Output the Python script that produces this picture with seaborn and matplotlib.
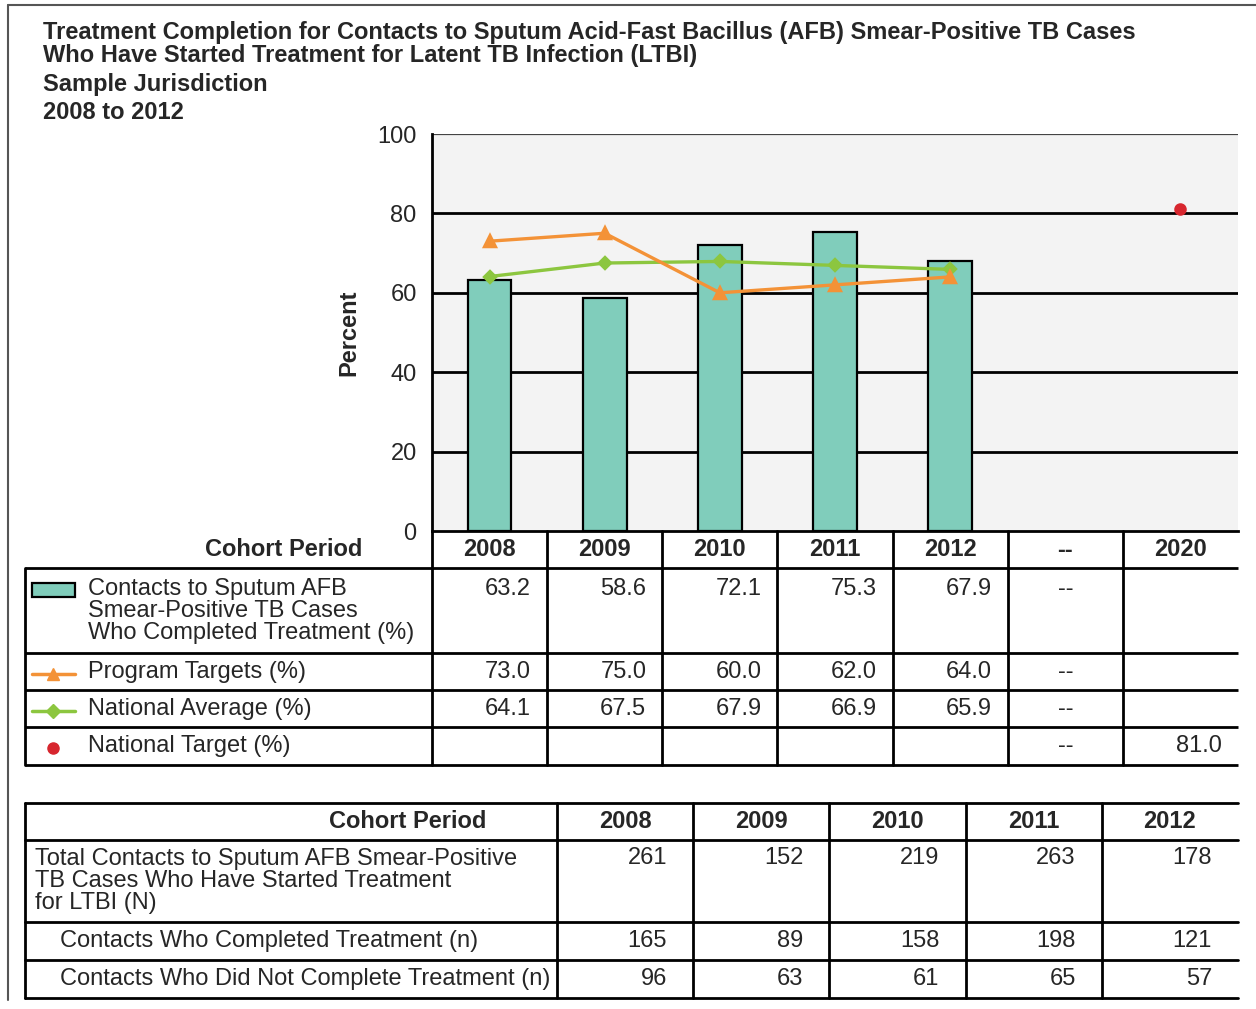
import matplotlib
matplotlib.use("Agg")
import matplotlib.pyplot as plt
from matplotlib.lines import Line2D
from matplotlib.patches import Rectangle
import numpy as np
import pandas as pd
import seaborn as sns

# ---- data -------------------------------------------------------------
years = ["2008", "2009", "2010", "2011", "2012"]
columns = years + ["--", "2020"]
completed_pct = [63.2, 58.6, 72.1, 75.3, 67.9]
program_targets = [73.0, 75.0, 60.0, 62.0, 64.0]
national_avg = [64.1, 67.5, 67.9, 66.9, 65.9]
target_year = ["2020"]
national_target = [81.0]

total_started = [261, 152, 219, 263, 178]
completed_n = [165, 89, 158, 198, 121]
not_completed_n = [96, 63, 61, 65, 57]

TEAL = "#80cdbb"
ORANGE = "#f39237"
GREEN = "#8cc63f"
RED = "#d7262e"

sns.set_theme(style="white")
plt.rcParams["font.family"] = ["Liberation Sans", "DejaVu Sans"]

W, H = 1256, 1009
fig = plt.figure(figsize=(W / 100, H / 100), dpi=100)


def px_axes(x0, x1, y0, y1):
    # pixel box (top-left origin) -> figure axes
    return fig.add_axes([x0 / W, 1 - y1 / H, (x1 - x0) / W, (y1 - y0) / H])


FS = 17
AX_L, AX_R, AX_T, AX_B = 432, 1238, 134, 531
col_w = (AX_R - AX_L) / len(columns)

# ---- chart -------------------------------------------------------------
ax = px_axes(AX_L, AX_R, AX_T, AX_B)
ax.set_facecolor("#f3f3f3")
ax.set_axisbelow(True)

sns.barplot(x=years, y=completed_pct, order=columns, color=TEAL,
            width=0.38, edgecolor="black", linewidth=1.6,
            saturation=1, ax=ax, zorder=2)
sns.pointplot(x=years, y=program_targets, order=columns, color=ORANGE,
              markers="^", markersize=8, linewidth=2.4, errorbar=None,
              ax=ax, zorder=4)
sns.pointplot(x=years, y=national_avg, order=columns, color=GREEN,
              markers="D", markersize=6, linewidth=2.4, errorbar=None,
              ax=ax, zorder=3)
sns.pointplot(x=target_year, y=national_target, order=columns, color=RED,
              markers="o", markersize=7, linestyle="none", errorbar=None,
              ax=ax, zorder=4)

ax.set_xlim(-0.5, len(columns) - 0.5)
ax.set_ylim(0, 100)
ax.set_yticks([0, 20, 40, 60, 80, 100])
for v in [20, 40, 60, 80]:
    ax.axhline(v, color="black", lw=2, zorder=1)
ax.axhline(100, color="#444444", lw=1.6, zorder=1)
ax.set_xticks([])
ax.set_xlabel("")
for s in ["top", "right"]:
    ax.spines[s].set_visible(False)
ax.spines["left"].set_color("black")
ax.spines["left"].set_linewidth(2)
ax.spines["bottom"].set_color("black")
ax.spines["bottom"].set_linewidth(2)
ax.tick_params(axis="y", direction="out", length=8, width=1.6,
               color="black", labelsize=FS, pad=3)
ax.set_ylabel("Percent", fontsize=FS, fontweight="bold", labelpad=12)

# ---- upper table -------------------------------------------------------
T_L = 25
t1 = px_axes(T_L, AX_R, AX_B, 765)
lab_w = (AX_L - T_L) / col_w
x_left = -0.5 - lab_w
t1.set_xlim(x_left, len(columns) - 0.5)
t1.set_ylim(765, AX_B)
t1.axis("off")


def tx(px):
    return -0.5 - (AX_L - px) / col_w


rows1 = [568, 653, 690, 727, 765]
for y in rows1:
    t1.plot([x_left, len(columns) - 0.5], [y, y], color="black", lw=2,
            solid_capstyle="butt", clip_on=False)
t1.plot([x_left, x_left], [rows1[0], rows1[-1]], color="black", lw=2,
        clip_on=False)
for k in range(len(columns)):
    t1.plot([k - 0.5, k - 0.5], [AX_B, rows1[-1]], color="black", lw=2,
            clip_on=False)

t1.text(tx(362), 550, "Cohort Period", ha="right", va="center",
        fontsize=FS, fontweight="bold")
for k, c in enumerate(columns):
    t1.text(k, 550, c, ha="center", va="center", fontsize=FS,
            fontweight="bold")

labels1 = ["Contacts to Sputum AFB\nSmear-Positive TB Cases\n"
           "Who Completed Treatment (%)",
           "Program Targets (%)", "National Average (%)",
           "National Target (%)"]
ycent = [611, 672, 709, 746]
for lab, y in zip(labels1, ycent):
    t1.text(tx(88), y, lab, ha="left", va="center", fontsize=FS,
            linespacing=1.0)

val_pad = 16 / col_w
series_rows = [(completed_pct, 589), (program_targets, 672),
               (national_avg, 709)]
for vals, y in series_rows:
    for k, v in enumerate(vals):
        t1.text(k + 0.5 - val_pad, y, f"{v:.1f}", ha="right", va="center",
                fontsize=FS)
for y in [589, 672, 709, 746]:
    t1.text(columns.index("--"), y, "--", ha="center", va="center",
            fontsize=FS)
t1.text(columns.index("2020") + 0.5 - val_pad, 746, f"{national_target[0]:.1f}",
        ha="right", va="center", fontsize=FS)

# legend glyphs
g0, g1 = tx(32), tx(75)
t1.add_patch(Rectangle((g0, 583), g1 - g0, 14, facecolor=TEAL,
                       edgecolor="black", lw=1.6))
t1.plot([g0, g1], [674, 674], color=ORANGE, lw=2.5)
t1.plot([(g0 + g1) / 2], [674], marker="^", color=ORANGE, ms=8)
t1.plot([g0, g1], [711, 711], color=GREEN, lw=2.5)
t1.plot([(g0 + g1) / 2], [711], marker="D", color=GREEN, ms=7)
t1.plot([tx(53)], [748], marker="o", color=RED, ms=8, ls="none")

# ---- lower table -------------------------------------------------------
B_L, B_S, B_T, B_B = 25, 557, 803, 998
col_w2 = (AX_R - B_S) / len(years)
t2 = px_axes(B_L, AX_R, B_T, B_B)
x2_left = -0.5 - (B_S - B_L) / col_w2
t2.set_xlim(x2_left, len(years) - 0.5)
t2.set_ylim(B_B, B_T)
t2.axis("off")


def tx2(px):
    return -0.5 - (B_S - px) / col_w2


rows2 = [803, 840, 922, 960, 998]
for y in rows2:
    t2.plot([x2_left, len(years) - 0.5], [y, y], color="black", lw=2,
            clip_on=False)
t2.plot([x2_left, x2_left], [rows2[0], rows2[-1]], color="black", lw=2,
        clip_on=False)
for k in range(len(years)):
    t2.plot([k - 0.5, k - 0.5], [rows2[0], rows2[-1]], color="black", lw=2,
            clip_on=False)

t2.text(tx2(486), 821, "Cohort Period", ha="right", va="center",
        fontsize=FS, fontweight="bold")
for k, c in enumerate(years):
    t2.text(k, 821, c, ha="center", va="center", fontsize=FS,
            fontweight="bold")

t2.text(tx2(35), 881, "Total Contacts to Sputum AFB Smear-Positive\n"
        "TB Cases Who Have Started Treatment\nfor LTBI (N)",
        ha="left", va="center", fontsize=FS, linespacing=1.0)
t2.text(tx2(60), 941, "Contacts Who Completed Treatment (n)", ha="left",
        va="center", fontsize=FS)
t2.text(tx2(60), 979, "Contacts Who Did Not Complete Treatment (n)",
        ha="left", va="center", fontsize=FS)

pad2 = 26 / col_w2
for vals, y in [(total_started, 858), (completed_n, 941),
                (not_completed_n, 979)]:
    for k, v in enumerate(vals):
        t2.text(k + 0.5 - pad2, y, str(v), ha="right", va="center",
                fontsize=FS)

# ---- titles and frame --------------------------------------------------
TFS = 17
fig.text(43 / W, 1 - 39 / H, "Treatment Completion for Contacts to Sputum "
         "Acid-Fast Bacillus (AFB) Smear-Positive TB Cases",
         fontsize=TFS, fontweight="bold", va="baseline")
fig.text(43 / W, 1 - 62 / H, "Who Have Started Treatment for Latent TB "
         "Infection (LTBI)", fontsize=TFS, fontweight="bold", va="baseline")
fig.text(43 / W, 1 - 91 / H, "Sample Jurisdiction", fontsize=TFS,
         fontweight="bold", va="baseline")
fig.text(43 / W, 1 - 119 / H, "2008 to 2012", fontsize=TFS,
         fontweight="bold", va="baseline")

fig.add_artist(Line2D([8 / W, 8 / W], [1 - 5 / H, 1 - 1000 / H],
                      color="#555555", lw=1.5))
fig.add_artist(Line2D([8 / W, 1.0], [1 - 5 / H, 1 - 5 / H],
                      color="#555555", lw=1.5))

fig.savefig("out.png", dpi=100)
